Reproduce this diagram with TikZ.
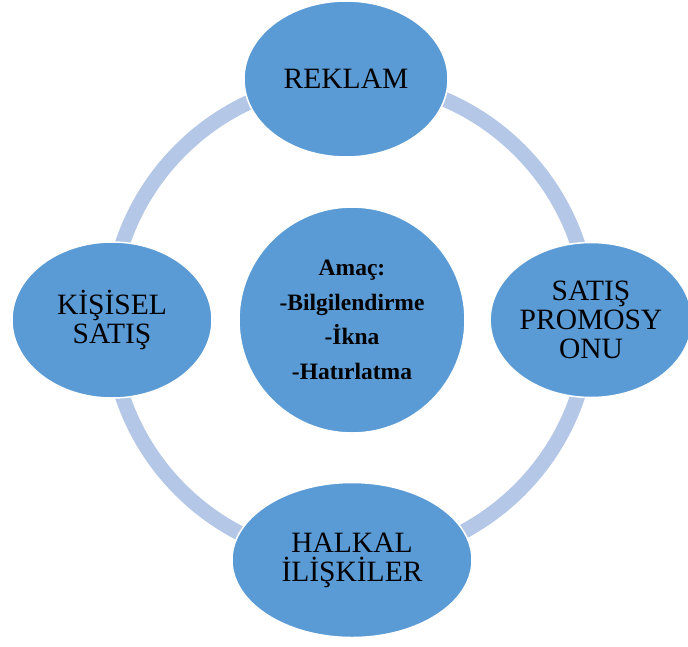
\documentclass[tikz,border=0pt]{standalone}
\usepackage{fontspec}
\setmainfont{Liberation Serif}
\usetikzlibrary{shapes.geometric}
\definecolor{nodeblue}{HTML}{5B9BD5}
\definecolor{ringblue}{HTML}{B4C7E7}
\begin{document}
\begin{tikzpicture}[x=1pt,y=-1pt,
  outer/.style={ellipse, fill=nodeblue, draw=white, line width=1.5pt, inner sep=0pt,
    align=center, text=black, font=\fontsize{29.5}{29}\selectfont},
  hub/.style={circle, fill=nodeblue, draw=white, line width=1.5pt, inner sep=0pt,
    minimum size=226pt, align=center, text=black, font=\fontsize{23.5}{34.5}\selectfont\bfseries},
  ring/.style={draw=ringblue, line width=15pt}]
\useasboundingbox (0,0) rectangle (688,646);
\coordinate (ringc) at (350,320);
\draw[ring] (ringc) circle[radius=240];
\node[outer, minimum width=204pt, minimum height=156pt] (reklam) at (346,79) {REKLAM};
\node[outer, minimum width=198pt, minimum height=155pt] (satis) at (591,320) {SATIŞ\\PROMOSY\\ONU};
\node[outer, minimum width=200pt, minimum height=156pt] (kisisel) at (112,320) {KİŞİSEL\\SATIŞ};
\node[outer, minimum width=240pt, minimum height=155pt] (halkal) at (352,560) {HALKAL\\İLİŞKİLER};
\node[hub] (amac) at (352,320) {Amaç:\\-Bilgilendirme\\-İkna\\-Hatırlatma};
\end{tikzpicture}
\end{document}
